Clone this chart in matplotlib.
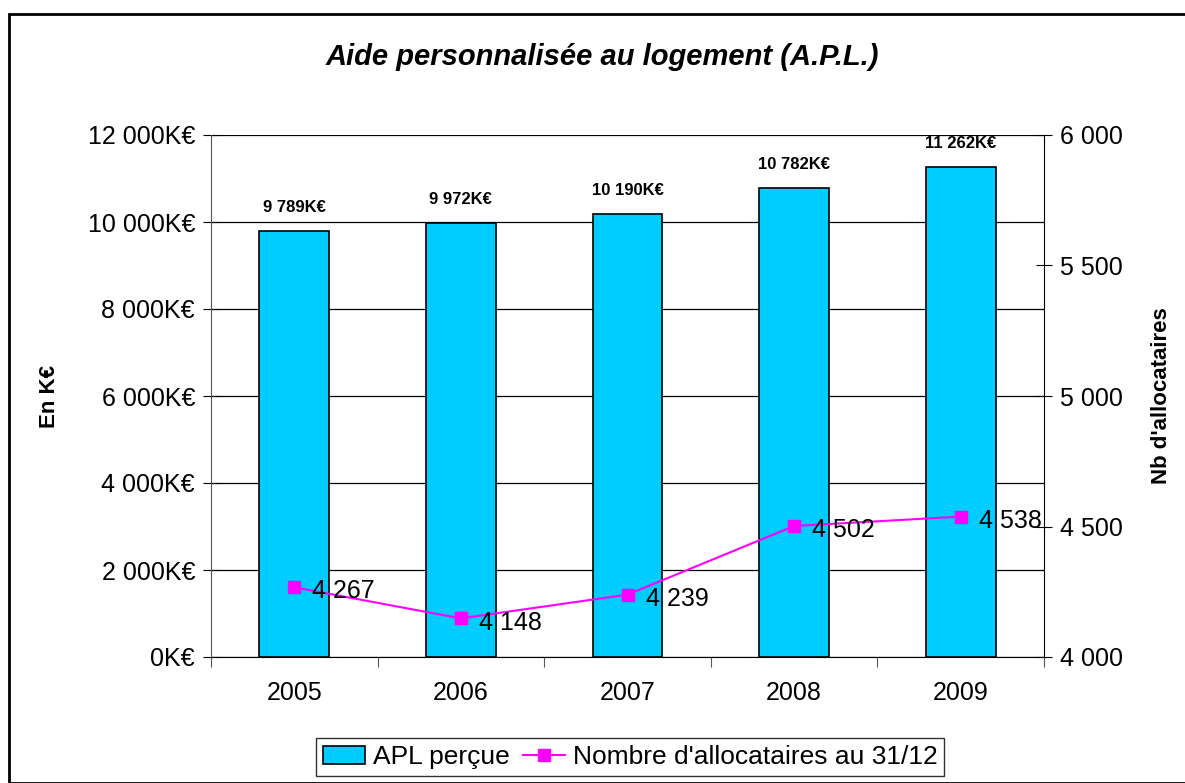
import matplotlib

matplotlib.use("Agg")

import matplotlib.pyplot as plt
from matplotlib.patches import Rectangle

plt.rcParams["font.family"] = ["Liberation Sans", "DejaVu Sans"]

years = ["2005", "2006", "2007", "2008", "2009"]
apl_keur = [9789, 9972, 10190, 10782, 11262]
allocataires = [4267, 4148, 4239, 4502, 4538]
left_ticks = [0, 2000, 4000, 6000, 8000, 10000, 12000]
right_ticks = [4000, 4500, 5000, 5500, 6000]


def fr(n):
    return f"{n:,}".replace(",", " ")


fig = plt.figure(figsize=(11.85, 7.83), dpi=100)
fig.patches.append(Rectangle((9 / 1185, 0), 1.2, 1 - 14 / 783, transform=fig.transFigure,
                             fill=False, edgecolor="black", linewidth=2.0))

ax = fig.add_axes([211 / 1185, 1 - 657 / 783, (1044 - 211) / 1185, (657 - 135) / 783])
x = list(range(len(years)))

ax.set_axisbelow(True)
ax.grid(True, axis="y", color="black", linewidth=0.9)
bars = ax.bar(x, apl_keur, width=0.42, color="#00CCFF", edgecolor="black",
              linewidth=1.2, label="APL perçue", zorder=2)
for xi, v in zip(x, apl_keur):
    ax.annotate(f"{fr(v)}K€", (xi, v), xytext=(0, 17), textcoords="offset points",
                ha="center", va="center", fontsize=12, fontweight="bold")

ax.set_xlim(-0.5, 4.5)
ax.set_ylim(0, 12000)
ax.set_yticks(left_ticks)
ax.set_yticklabels([f"{fr(v)}K€" for v in left_ticks], fontsize=18)
ax.set_xticks([i + 0.5 for i in range(-1, 5)], minor=False)
ax.set_xticklabels([])
ax.set_xticks(x, minor=True)
ax.set_xticklabels(years, minor=True, fontsize=18)
ax.tick_params(axis="x", which="major", direction="out", length=7, color="#555555")
ax.tick_params(axis="x", which="minor", length=0, pad=17)
ax.tick_params(axis="y", direction="inout", length=11, pad=6)
ax.set_ylabel("En K€", fontsize=16, fontweight="bold", labelpad=20)
ax.spines["top"].set_visible(False)
ax.spines["right"].set_visible(False)
ax.spines["left"].set_color("#555555")

ax2 = ax.twinx()
line, = ax2.plot(x, allocataires, color="#FF00FF", linewidth=1.5, marker="s",
                 markersize=8, label="Nombre d'allocataires au 31/12", zorder=3)
for xi, v in zip(x, allocataires):
    ax2.annotate(fr(v), (xi, v), xytext=(13, -3), textcoords="offset points",
                 ha="left", va="center", fontsize=18)
ax2.set_ylim(4000, 6000)
ax2.set_yticks(right_ticks)
ax2.set_yticklabels([fr(v) for v in right_ticks], fontsize=18)
ax2.tick_params(axis="y", direction="inout", length=11, pad=6)
ax2.set_ylabel("Nb d'allocataires", fontsize=16, fontweight="bold", labelpad=20)
ax2.spines["top"].set_visible(False)
ax2.spines["left"].set_visible(False)
ax2.spines["bottom"].set_visible(False)

fig.text(602 / 1185, 1 - 57 / 783, "Aide personnalisée au logement (A.P.L.)",
         ha="center", va="center", fontsize=21, fontweight="bold", style="italic")

leg = fig.legend(handles=[bars, line], loc="center", bbox_to_anchor=(630 / 1185, 1 - 757 / 783),
                 ncol=2, fontsize=19, frameon=True, fancybox=False, edgecolor="black",
                 handlelength=1.6, columnspacing=0.5, handletextpad=0.3, borderpad=0.25)
leg.get_frame().set_linewidth(1.0)

fig.savefig("out.png", dpi=100)
